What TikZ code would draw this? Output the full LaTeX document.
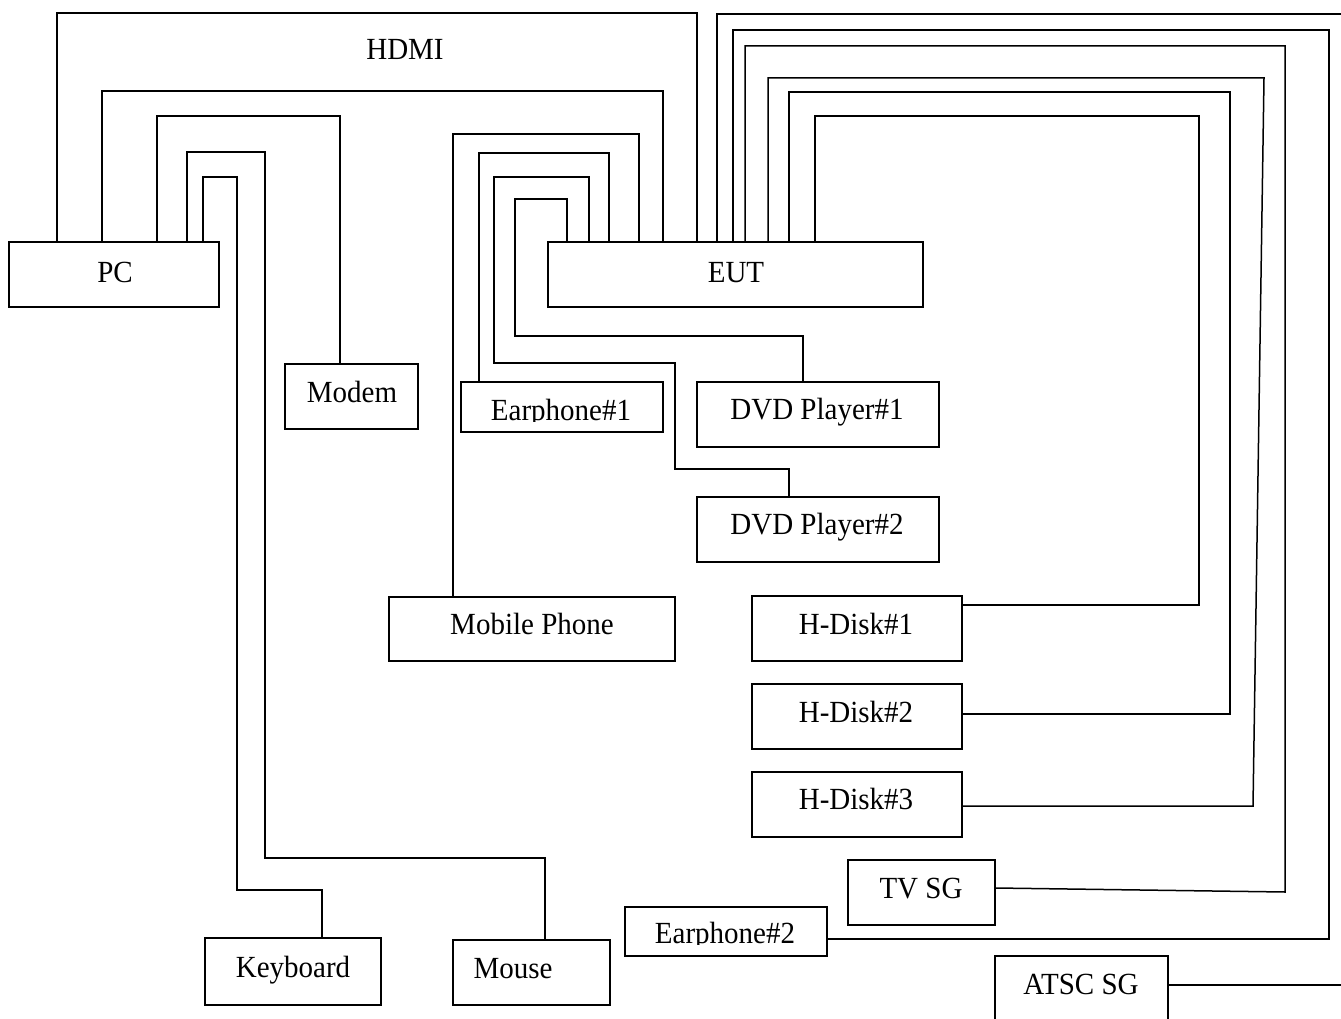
\documentclass[tikz,border=0pt]{standalone}
\usepackage{fontspec}
\setmainfont{Liberation Serif}
\usetikzlibrary{fit}
\newcommand{\tallt}[1]{\scalebox{1}[1.06]{#1}}
\begin{document}
\begin{tikzpicture}[x=1pt,y=-1pt,
  box/.style={draw=black,line width=1.5pt,inner sep=0pt},
  wire/.style={draw=black,line width=1.5pt},
  lbl/.style={anchor=base,inner sep=0pt,font=\fontsize{29}{34}\selectfont}]
\useasboundingbox (0,0) rectangle (1341,1019);
\clip (0,0) rectangle (1341,1019);
% boxes
\node[box,fit={(9,242) (219,307)}] (pc) {};
\node[box,fit={(548,242) (923,307)}] (eut) {};
\node[box,fit={(285,364) (418,429)}] (modem) {};
\node[box,fit={(461,382) (663,432)}] (ep1) {};
\node[box,fit={(697,382) (939,447)}] (dvd1) {};
\node[box,fit={(697,497) (939,562)}] (dvd2) {};
\node[box,fit={(389,597) (675,661)}] (mob) {};
\node[box,fit={(752,596) (962,661)}] (hd1) {};
\node[box,fit={(752,684) (962,749)}] (hd2) {};
\node[box,fit={(752,772) (962,837)}] (hd3) {};
\node[box,fit={(848,860) (995,925)}] (tvsg) {};
\node[box,fit={(625,907) (827,956)}] (ep2) {};
\node[box,fit={(205,938) (381,1005)}] (kbd) {};
\node[box,fit={(453,940) (610,1005)}] (mouse) {};
\node[box,fit={(995,956) (1168,1035)}] (atsc) {};
% labels
\node[lbl] (tpc) at (115,282) {\tallt{PC}};
\node[lbl] (teut) at (736,282) {\tallt{EUT}};
\node[lbl] (thdmi) at (405,60) {\tallt{HDMI}};
\node[lbl] (tmodem) at (352,402) {\tallt{Modem}};
\begin{scope}
\clip (461,382) rectangle (663,421);
\node[lbl] (tep1) at (561,420) {\tallt{Earphone\#1}};
\end{scope}
\node[lbl] (tdvd1) at (817,419) {\tallt{DVD Player\#1}};
\node[lbl] (tdvd2) at (817,534) {\tallt{DVD Player\#2}};
\node[lbl] (tmob) at (532,634) {\tallt{Mobile Phone}};
\node[lbl] (thd1) at (856,634) {\tallt{H-Disk\#1}};
\node[lbl] (thd2) at (856,722) {\tallt{H-Disk\#2}};
\node[lbl] (thd3) at (856,809) {\tallt{H-Disk\#3}};
\node[lbl] (ttv) at (921,898) {\tallt{TV SG}};
\begin{scope}
\clip (625,907) rectangle (827,944);
\node[lbl] (tep2) at (725,943) {\tallt{Earphone\#2}};
\end{scope}
\node[lbl] (tkbd) at (293,977) {\tallt{Keyboard}};
\node[lbl] (tmouse) at (513,978) {\tallt{Mouse}};
\node[lbl] (tatsc) at (1081,994) {\tallt{ATSC SG}};
% wires from PC
\draw[wire] (57,0 |- pc.north) |- (697,13) -- (697,0 |- eut.north);
\draw[wire] (102,0 |- pc.north) |- (663,91) -- (663,0 |- eut.north);
\draw[wire] (157,0 |- pc.north) |- (340,116) -- (340,0 |- modem.north);
\draw[wire] (187,0 |- pc.north) |- (265,152) -- (265,858) -| (545,0 |- mouse.north);
\draw[wire] (203,0 |- pc.north) |- (237,177) -- (237,890) -| (322,0 |- kbd.north);
% wires to EUT (left group)
\draw[wire] (453,0 |- mob.north) |- (639,134) -- (639,0 |- eut.north);
\draw[wire] (479,0 |- ep1.north) |- (609,153) -- (609,0 |- eut.north);
\draw[wire] (789,0 |- dvd2.north) |- (675,469) -- (675,363) -| (494,177) -| (589,0 |- eut.north);
\draw[wire] (803,0 |- dvd1.north) |- (515,336) -- (515,199) -| (567,0 |- eut.north);
% wires to EUT (right group)
\draw[wire] (hd1.east |- 0,605) -| (1199,116) -| (815,0 |- eut.north);
\draw[wire] (hd2.east |- 0,714) -| (1230,92) -| (789,0 |- eut.north);
\draw[wire] (hd3.east |- 0,806) -- (1253,806) -- (1264,78) -| (768,0 |- eut.north);
\draw[wire] (tvsg.east |- 0,888) -- (1285,892) -- (1285,46) -| (745,0 |- eut.north);
\draw[wire] (ep2.east |- 0,939) -| (1329,30) -| (733,0 |- eut.north);
\draw[wire] (atsc.east |- 0,985) -| (1352,14) -| (717,0 |- eut.north);
\end{tikzpicture}
\end{document}
